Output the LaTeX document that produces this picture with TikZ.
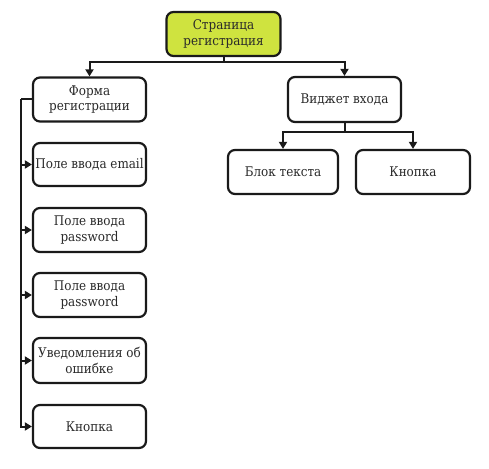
\documentclass[tikz,border=0pt]{standalone}
\usepackage{fontspec}
\setmainfont{DejaVu Serif Condensed}
\usetikzlibrary{arrows.meta,positioning}
\definecolor{rootfill}{HTML}{CFE33F}
\definecolor{boxtext}{HTML}{2A2A2A}
\definecolor{edge}{HTML}{1A1A1A}
\begin{document}
\begin{tikzpicture}[x=1pt,y=-1pt,
  box/.style={draw=edge,line width=2.2pt,rounded corners=7pt,fill=white,
    text=boxtext,align=center,font=\fontsize{13.3}{15.5}\selectfont,inner sep=0pt},
  link/.style={draw=edge,line width=2pt},
  arr/.style={link,-{Triangle[length=7pt,width=8pt]}}]
\useasboundingbox (0,0) rectangle (489,468);
% root
\node[box,fill=rootfill,minimum width=114pt,minimum height=44pt] (root) at (223.5,34) {Страница\\регистрация};
% first level
\node[box,minimum width=113pt,minimum height=44pt] (forma) at (89.5,99.5) {Форма\\регистрации};
\node[box,minimum width=113pt,minimum height=45pt] (widget) at (344.5,99.5) {Виджет входа};
% form children
\node[box,minimum width=113pt,minimum height=43pt] (email) at (89.5,164.5) {Поле ввода email};
\node[box,minimum width=113pt,minimum height=44pt] (pass1) at (89.5,230) {Поле ввода\\password};
\node[box,minimum width=113pt,minimum height=44pt] (pass2) at (89.5,295) {Поле ввода\\password};
\node[box,minimum width=113pt,minimum height=45pt] (notice) at (89.5,360.5) {Уведомления об\\ошибке};
\node[box,minimum width=113pt,minimum height=43pt] (button) at (89.5,426.5) {Кнопка};
% widget children
\node[box,minimum width=110pt,minimum height=44pt] (textblock) at (283,172) {Блок текста};
\node[box,minimum width=114pt,minimum height=44pt] (wbutton) at (413,172) {Кнопка};
% root to first level
\coordinate (split) at (223.5,62);
\draw[link] (root.south) -- (split);
\draw[arr] (split) -| (forma.north);
\draw[arr] (split) -| (widget.north);
% widget to its children
\coordinate (wsplit) at (344.5,132);
\draw[link] (widget.south) -- (wsplit);
\draw[arr] (wsplit) -| (textblock.north);
\draw[arr] (wsplit) -| (wbutton.north);
% side rail of the form
\coordinate (rail) at (21,99.5);
\draw[link] (forma.west) -- (rail);
\foreach \n in {email,pass1,pass2,notice,button}
  \draw[arr] (rail) |- (\n.west);
\end{tikzpicture}
\end{document}
